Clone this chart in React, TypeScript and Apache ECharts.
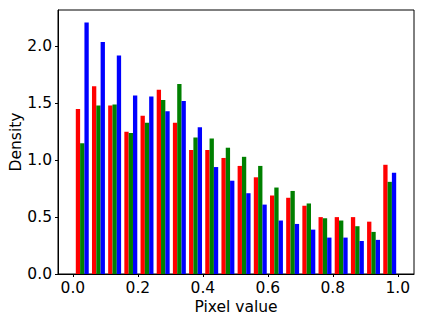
import React, { useEffect, useRef } from "react";
import * as echarts from "echarts";

// Histogram (density) of pixel values, 20 bins per channel
const BIN_MIN = 1 / 255;
const BIN_MAX = 1.0;
const N_BINS = 20;

const redDensity = [1.45, 1.65, 1.48, 1.25, 1.39, 1.62, 1.33, 1.09, 1.09, 1.02, 0.95, 0.85, 0.69, 0.67, 0.6, 0.5, 0.5, 0.5, 0.46, 0.96];
const greenDensity = [1.15, 1.48, 1.49, 1.24, 1.33, 1.53, 1.67, 1.2, 1.19, 1.11, 1.03, 0.95, 0.76, 0.73, 0.62, 0.49, 0.47, 0.42, 0.37, 0.81];
const blueDensity = [2.21, 2.04, 1.92, 1.57, 1.56, 1.43, 1.52, 1.29, 0.94, 0.82, 0.71, 0.61, 0.47, 0.44, 0.39, 0.32, 0.32, 0.29, 0.3, 0.89];

const channels = [
  { name: "red", values: redDensity, color: "#ff0000" },
  { name: "green", values: greenDensity, color: "#008000" },
  { name: "blue", values: blueDensity, color: "#0000ff" },
];

const xTickLabels = ["0.0", "0.2", "0.4", "0.6", "0.8", "1.0"];
const yTickLabels = ["0.0", "0.5", "1.0", "1.5", "2.0"];

export default function App() {
  const ref = useRef<HTMLDivElement>(null);
  useEffect(() => {
    if (!ref.current) return;
    const chart = echarts.init(ref.current, null, { renderer: "svg" });
    const binW = (BIN_MAX - BIN_MIN) / N_BINS;
    const range = BIN_MAX - BIN_MIN;
    const xMin = BIN_MIN - 0.05 * range;
    const xMax = BIN_MAX + 0.05 * range;
    const yMaxData = Math.max(...redDensity, ...greenDensity, ...blueDensity);
    const yMax = yMaxData * 1.05;
    const barW = (0.8 * binW) / 3;
    const font = "DejaVu Sans";

    const series = channels.map((ch, ci) => ({
      type: "custom" as const,
      name: ch.name,
      data: ch.values.map((v, k) => {
        const x0 = BIN_MIN + k * binW + 0.1 * binW + ci * barW;
        return [x0, x0 + barW, v];
      }),
      encode: { x: [0, 1], y: 2 },
      renderItem: (params: any, api: any) => {
        const p0 = api.coord([api.value(0), api.value(2)]);
        const p1 = api.coord([api.value(1), 0]);
        return {
          type: "rect",
          shape: { x: p0[0], y: p0[1], width: p1[0] - p0[0], height: p1[1] - p0[1] },
          style: { fill: ch.color },
        };
      },
    }));

    chart.setOption({
      animation: false,
      grid: {
        left: 58,
        right: 9,
        top: 10,
        bottom: 47,
        containLabel: false,
        outerBoundsMode: "none",
        show: true,
        borderColor: "#000",
        borderWidth: 1,
        backgroundColor: "transparent",
      },
      xAxis: {
        type: "value",
        min: xMin,
        max: xMax,
        minInterval: 0.2,
        maxInterval: 0.2,
        splitLine: { show: false },
        axisLine: { onZero: false, lineStyle: { color: "#000", width: 1 } },
        axisTick: { length: 3, lineStyle: { color: "#000", width: 1 } },
        axisLabel: {
          showMinLabel: false,
          showMaxLabel: false,
          margin: 6,
          color: "#000",
          fontFamily: font,
          fontSize: 15.5,
          formatter: (v: number) => {
            const idx = Math.round(v / 0.2);
            return Math.abs(v - idx * 0.2) < 1e-6 && idx >= 0 && idx < xTickLabels.length ? xTickLabels[idx] : "";
          },
        },
        name: "Pixel value",
        nameLocation: "middle",
        nameGap: 25,
        nameMoveOverlap: false,
        nameTextStyle: { color: "#000", fontFamily: font, fontSize: 15.5 },
      },
      yAxis: {
        type: "value",
        min: 0,
        max: yMax,
        interval: 0.5,
        splitLine: { show: false },
        axisLine: { show: true, onZero: false, lineStyle: { color: "#000", width: 1 } },
        axisTick: { show: true, length: 3, lineStyle: { color: "#000", width: 1 } },
        axisLabel: {
          showMaxLabel: false,
          margin: 6,
          color: "#000",
          fontFamily: font,
          fontSize: 15.5,
          formatter: (v: number) => {
            const idx = Math.round(v / 0.5);
            return Math.abs(v - idx * 0.5) < 1e-6 && idx < yTickLabels.length ? yTickLabels[idx] : "";
          },
        },
        name: "Density",
        nameLocation: "middle",
        nameGap: 34,
        nameMoveOverlap: false,
        nameTextStyle: { color: "#000", fontFamily: font, fontSize: 15.5 },
      },
      series,
    });
    return () => chart.dispose();
  }, []);
  return (
    <div
      ref={ref}
      style={{ position: "fixed", left: 0, top: 0, width: 423, height: 321, background: "#fff" }}
    />
  );
}
